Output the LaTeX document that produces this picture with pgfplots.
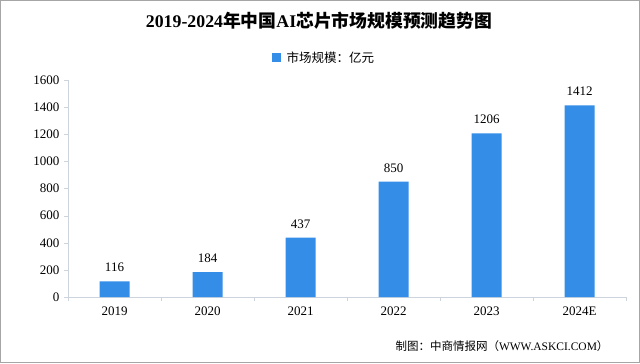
\documentclass[border=0pt]{standalone}
\usepackage{pgfplots}
\pgfplotsset{compat=1.18}
\usepackage{fontspec}
\setmainfont{Liberation Serif}
\newfontfamily\cjk{Noto Sans CJK SC}
\definecolor{barblue}{RGB}{52,142,232}
\definecolor{axgray}{RGB}{205,212,222}
\begin{document}
\begin{tikzpicture}[x=1bp,y=1bp]
\path[draw=gray!70,line width=1.2bp,fill=white] (0.6,0.6) rectangle (639.4,362.4);
\node[font=\fontsize{17.8bp}{19bp}\selectfont\bfseries] at (319,342) {2019-2024{\cjk\bfseries 年中国}AI{\cjk\bfseries 芯片市场规模预测趋势图}};
\fill[barblue] (272,301) rectangle (281,310);
\node[anchor=west,font=\cjk\fontsize{12.5bp}{14bp}\selectfont] at (283,305.5) {市场规模：亿元};
\node[anchor=east,font=\fontsize{11.5bp}{13bp}\selectfont] at (612,17) {{\cjk 制图：中商情报网（}WWW.ASKCI.COM{\cjk ）}};
\begin{axis}[
  at={(114.5bp,66bp)}, anchor=origin,
  scale only axis, width=558bp, height=217bp,
  xmin=-0.5, xmax=5.5, ymin=0, ymax=1600,
  ytick={0,200,...,1600},
  xtick={0,...,5},
  xticklabels={2019,2020,2021,2022,2023,2024E},
  minor xtick={-0.5,0.5,...,5.5},
  major x tick style={draw=none},
  minor x tick style={axgray},
  minor tick length=4bp,
  y tick style={axgray},
  major tick length=4bp,
  tick align=outside,
  axis x line*=bottom, axis y line*=left,
  axis line style={axgray},
  x axis line style={-}, y axis line style={-},
  tick label style={font=\fontsize{13bp}{15bp}\selectfont},
  /pgf/number format/assume math mode=true,
  /pgf/number format/1000 sep={},
  yticklabel style={xshift=-1bp},
  xticklabel style={yshift=-2bp},
  ybar, bar width=30bp,
  nodes near coords,
  nodes near coords style={font=\fontsize{13bp}{15bp}\selectfont, yshift=6bp, /pgf/number format/1000 sep={}},
  clip=false,
]
\addplot[fill=barblue, draw=none] coordinates {(0,116) (1,184) (2,437) (3,850) (4,1206) (5,1412)};
\end{axis}
\end{tikzpicture}
\end{document}
